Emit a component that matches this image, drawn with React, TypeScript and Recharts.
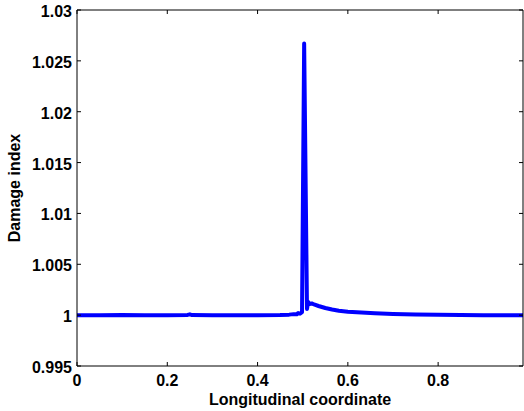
import React from 'react';
import { LineChart, Line, XAxis, YAxis } from 'recharts';

const xValues: number[] = [
  0, 0.05, 0.1, 0.15, 0.2, 0.245, 0.25, 0.255, 0.3, 0.35, 0.4, 0.45, 0.47, 0.48, 0.487, 0.49, 0.494,
  0.4985, 0.5032, 0.5095, 0.512, 0.515, 0.52, 0.525, 0.535, 0.55, 0.565, 0.58, 0.6, 0.63, 0.66, 0.7,
  0.75, 0.8, 0.85, 0.9, 0.95, 0.988,
];
const damageValues: number[] = [
  1.0, 0.99998, 1.00002, 1.0, 0.99999, 1.00002, 1.00008, 1.00001, 1.0, 0.99999, 1.0, 1.00002, 1.00005,
  1.0001, 1.00008, 1.0002, 1.00015, 1.0003, 1.0267, 1.0006, 1.0013, 1.0011, 1.00115, 1.00105, 1.0009,
  1.0007, 1.00055, 1.00043, 1.00034, 1.00025, 1.00018, 1.00012, 1.00007, 1.00003, 1.00001, 1.0, 1.0, 1.0,
];
const xTicks: number[] = [0, 0.2, 0.4, 0.6, 0.8];
const yTicks: number[] = [0.995, 1, 1.005, 1.01, 1.015, 1.02, 1.025, 1.03];

const data = xValues.map((x, i) => ({ x, y: damageValues[i] }));

const FONT = '"Liberation Sans", Arial, Helvetica, sans-serif';
const fmt = (v: number) => String(parseFloat(v.toFixed(3)));
const TICK_LEN = 4;

const BottomTick = (props: any) => {
  const { x, y, payload } = props;
  return (
    <g>
      <line x1={x} y1={y} x2={x} y2={y - TICK_LEN} stroke="#000" strokeWidth={1} />
      <text x={x} y={y + 20} textAnchor="middle" fontFamily={FONT} fontWeight="bold" fontSize={16} fill="#000">
        {fmt(payload.value)}
      </text>
    </g>
  );
};

const TopTick = (props: any) => {
  const { x, y } = props;
  return <line x1={x} y1={y} x2={x} y2={y + TICK_LEN} stroke="#000" strokeWidth={1} />;
};

const LeftTick = (props: any) => {
  const { x, y, payload } = props;
  return (
    <g>
      <line x1={x} y1={y} x2={x + TICK_LEN} y2={y} stroke="#000" strokeWidth={1} />
      <text x={x - 5} y={y + 7} textAnchor="end" fontFamily={FONT} fontWeight="bold" fontSize={16} fill="#000">
        {fmt(payload.value)}
      </text>
    </g>
  );
};

const RightTick = (props: any) => {
  const { x, y } = props;
  return <line x1={x} y1={y} x2={x - TICK_LEN} y2={y} stroke="#000" strokeWidth={1} />;
};

const YLabel = (props: any) => {
  const vb = props.viewBox || { y: 10, height: 356 };
  const cy = vb.y + vb.height / 2;
  const cx = 20;
  return (
    <text
      x={cx}
      y={cy}
      transform={`rotate(-90 ${cx} ${cy})`}
      textAnchor="middle"
      fontFamily={FONT}
      fontWeight="bold"
      fontSize={16}
      fill="#000"
    >
      Damage index
    </text>
  );
};

export default function App() {
  return (
    <div style={{ position: 'absolute', left: 0, top: 0, background: '#fff' }}>
      <LineChart width={524} height={411} data={data} margin={{ top: 9, right: 0, bottom: 0, left: 0 }}>
        <XAxis
          dataKey="x"
          type="number"
          domain={[0, 0.988]}
          ticks={xTicks}
          allowDataOverflow
          height={45}
          tickSize={0}
          tickMargin={0}
          tickLine={false}
          tick={<BottomTick />}
          axisLine={{ stroke: '#000', strokeWidth: 1 }}
          label={{
            value: 'Longitudinal coordinate',
            position: 'insideBottom',
            offset: 6,
            style: { fontFamily: FONT, fontWeight: 'bold', fontSize: 16, fill: '#000' },
          }}
        />
        <XAxis
          xAxisId="top"
          orientation="top"
          dataKey="x"
          type="number"
          domain={[0, 0.988]}
          ticks={xTicks}
          allowDataOverflow
          height={1}
          tickSize={0}
          tickMargin={0}
          tickLine={false}
          tick={<TopTick />}
          axisLine={{ stroke: '#000', strokeWidth: 1 }}
        />
        <YAxis
          type="number"
          domain={[0.995, 1.03]}
          ticks={yTicks}
          allowDataOverflow
          width={77}
          tickSize={0}
          tickMargin={0}
          tickLine={false}
          tick={<LeftTick />}
          axisLine={{ stroke: '#000', strokeWidth: 1 }}
          label={{ content: <YLabel /> }}
        />
        <YAxis
          yAxisId="right"
          orientation="right"
          type="number"
          domain={[0.995, 1.03]}
          ticks={yTicks}
          allowDataOverflow
          width={1}
          tickSize={0}
          tickMargin={0}
          tickLine={false}
          tick={<RightTick />}
          axisLine={{ stroke: '#000', strokeWidth: 1 }}
        />
        <Line
          xAxisId="top"
          yAxisId="right"
          dataKey="y"
          type="linear"
          stroke="none"
          strokeWidth={0}
          dot={false}
          activeDot={false}
          legendType="none"
          isAnimationActive={false}
        />
        <Line
          dataKey="y"
          type="linear"
          stroke="#0000ff"
          strokeWidth={4}
          strokeLinejoin="round"
          strokeLinecap="round"
          dot={false}
          activeDot={false}
          isAnimationActive={false}
        />
      </LineChart>
    </div>
  );
}
